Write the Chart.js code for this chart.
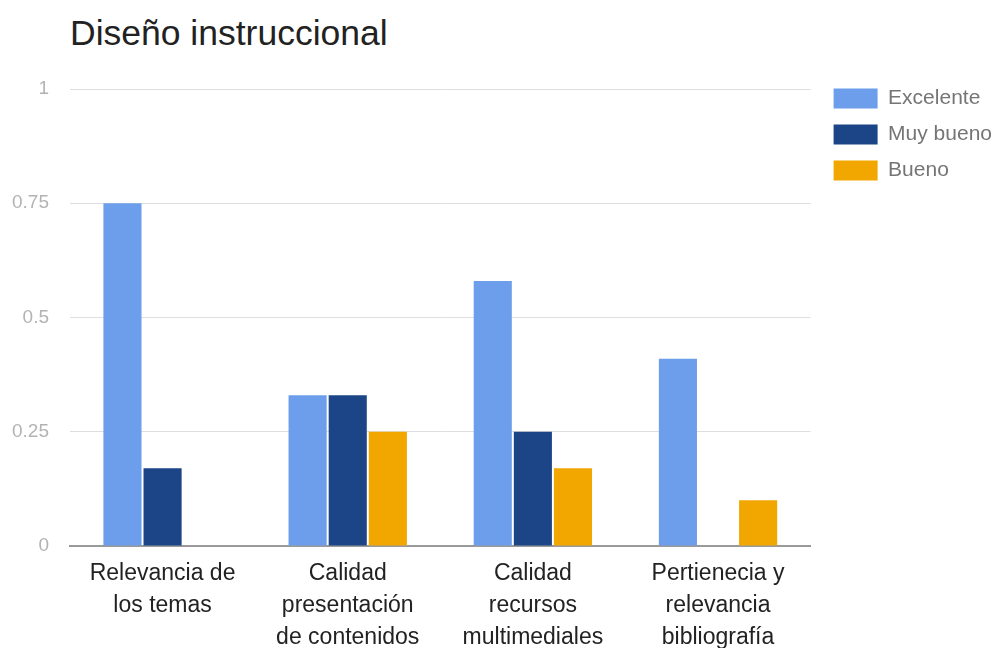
<!DOCTYPE html>
<html lang="es">
<head>
<meta charset="utf-8">
<title>Diseño instruccional</title>
<script src="https://cdn.jsdelivr.net/npm/chart.js@4/dist/chart.umd.min.js"></script>
<style>
    html, body { margin: 0; padding: 0; background: #fff; }
    #wrap { position: relative; width: 997px; height: 648px; }
    #chartTitle {
        position: absolute; left: 70px; top: 16px;
        font-family: "Liberation Sans", Arial, sans-serif;
        font-size: 35.5px; line-height: 35px; color: #222;
    }
    #diseno { position: absolute; left: 0; top: 0; }
</style>
</head>
<body>
<div id="wrap">
    <div id="chartTitle">Diseño instruccional</div>
    <canvas id="diseno" width="997" height="648"></canvas>
</div>
<script>
// categorias (eje x)
const categories = [
    ["Relevancia de", "los temas"],
    ["Calidad", "presentación", "de contenidos"],
    ["Calidad", "recursos", "multimediales"],
    ["Pertienecia y", "relevancia", "bibliografía"]
];

// valores de cada serie
const excelente = [0.75, 0.33, 0.58, 0.41];
const muyBueno = [0.17, 0.33, 0.25, 0];
const bueno = [0, 0.25, 0.17, 0.1];

// ticks del eje y
const yTicks = [0, 0.25, 0.5, 0.75, 1];

const FONT = "'Liberation Sans', Arial, sans-serif";

// mueve la leyenda para que quede arriba a la derecha, como en el original
const legendPlace = {
    id: "legendPlace",
    afterLayout(chart) {
        const lg = chart.legend;
        const dx = chart.chartArea.right + 8 - lg.left;
        const dy = chart.chartArea.top - 16 - lg.top;
        lg.left += dx; lg.right += dx;
        lg.top += dy; lg.bottom += dy;
    }
};

const ctx = document.getElementById("diseno").getContext("2d");

new Chart(ctx, {
    type: "bar",
    data: {
        labels: categories,
        datasets: [
            { label: "Excelente", data: excelente, backgroundColor: "#6d9eeb" },
            { label: "Muy bueno", data: muyBueno, backgroundColor: "#1c4587" },
            { label: "Bueno", data: bueno, backgroundColor: "#f1a600" }
        ]
    },
    options: {
        responsive: false,
        animation: false,
        layout: { padding: { left: 10, top: 89, right: 3, bottom: 0 } },
        datasets: {
            bar: { categoryPercentage: 0.65, barPercentage: 0.95 }
        },
        scales: {
            x: {
                grid: { display: false, drawTicks: false },
                border: { color: "#9a9a9a", width: 2 },
                ticks: {
                    color: "#222",
                    padding: 12,
                    maxRotation: 0,
                    autoSkip: false,
                    font: { family: FONT, size: 23, lineHeight: "32px" }
                },
                afterFit: function (scale) { scale.height = 102; }
            },
            y: {
                min: 0,
                max: 1,
                afterBuildTicks: function (scale) {
                    scale.ticks = yTicks.map(v => ({ value: v }));
                },
                grid: { color: "#dedede", drawTicks: false },
                border: { display: false },
                ticks: {
                    color: "#b3b3b3",
                    padding: 21,
                    font: { family: FONT, size: 19 },
                    callback: function (value) { return String(value); }
                },
                afterFit: function (scale) { scale.width = 60; }
            }
        },
        plugins: {
            title: { display: false },
            tooltip: { enabled: false },
            legend: {
                position: "right",
                align: "start",
                labels: {
                    boxWidth: 44,
                    boxHeight: 20,
                    padding: 15,
                    color: "#757575",
                    font: { family: FONT, size: 21 }
                }
            }
        }
    },
    plugins: [legendPlace]
});
</script>
</body>
</html>
